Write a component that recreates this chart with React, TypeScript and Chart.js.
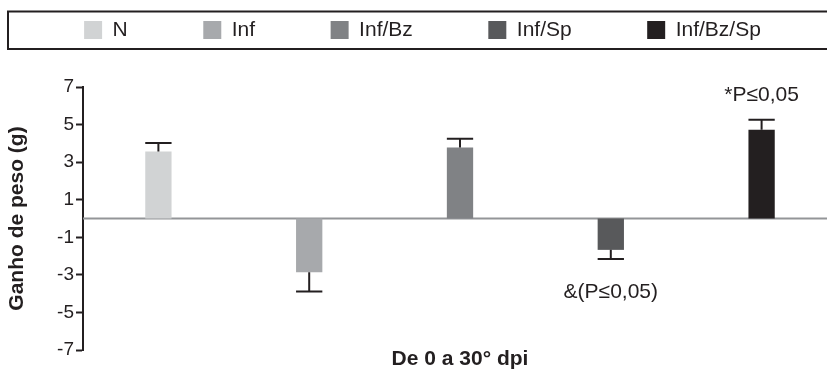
import { useEffect, useRef } from 'react';
import { Chart, registerables } from 'chart.js';

Chart.register(...registerables);

// ---- data ----
const categories = ['De 0 a 30° dpi'];
const groups = ['N', 'Inf', 'Inf/Bz', 'Inf/Sp', 'Inf/Bz/Sp'];
const means = [3.57, -2.86, 3.78, -1.67, 4.73];
const errors = [0.45, 1.03, 0.47, 0.49, 0.53];
const notes = ['', '', '', '&(P≤0,05)', '*P≤0,05'];
const yTicks = [-7, -5, -3, -1, 1, 3, 5, 7];
const yLabel = 'Ganho de peso (g)';

// ---- style ----
const colors = ['#d1d3d4', '#a7a9ac', '#808285', '#58595b', '#231f20'];
const INK = '#231f20';
const ZERO = '#939598';
const FONT = '"Liberation Sans", Arial, sans-serif';
const CANVAS_W = 845;
const CANVAS_H = 369;
const LEGEND_HEIGHT = 143;

const legendFrame = {
  id: 'legendFrame',
  beforeLayout(chart: any) {
    const lg: any = chart.legend;
    if (lg && !lg._framed) {
      lg._framed = true;
      const fit = lg.fit;
      lg.fit = function () {
        fit.call(this);
        this.height = LEGEND_HEIGHT;
      };
    }
  },
  afterDraw(chart: any) {
    const lg: any = chart.legend;
    if (!lg) return;
    const ctx = chart.ctx;
    ctx.save();
    ctx.strokeStyle = INK;
    ctx.lineWidth = 2;
    ctx.strokeRect(lg.left, 11.5, lg.right - lg.left + 1, 37.5);
    ctx.restore();
  },
};

const errorBars = {
  id: 'errorBars',
  beforeDatasetsDraw(chart: any) {
    const { ctx, chartArea, scales } = chart;
    const y0 = scales.y.getPixelForValue(0);
    ctx.save();
    ctx.strokeStyle = ZERO;
    ctx.lineWidth = 2;
    ctx.beginPath();
    ctx.moveTo(chartArea.left, y0);
    ctx.lineTo(chartArea.right, y0);
    ctx.stroke();
    ctx.restore();
  },
  afterDatasetsDraw(chart: any) {
    const { ctx, scales } = chart;
    ctx.save();
    chart.data.datasets.forEach((_ds: any, i: number) => {
      const bar: any = chart.getDatasetMeta(i).data[0];
      if (!bar) return;
      const v = means[i];
      const dir = v >= 0 ? 1 : -1;
      const yEnd = scales.y.getPixelForValue(v + dir * errors[i]);
      const { x, y, width } = bar.getProps(['x', 'y', 'width'], true);
      ctx.strokeStyle = INK;
      ctx.lineWidth = 2;
      ctx.beginPath();
      ctx.moveTo(x, y);
      ctx.lineTo(x, yEnd);
      ctx.moveTo(x - width / 2, yEnd);
      ctx.lineTo(x + width / 2, yEnd);
      ctx.stroke();
      if (notes[i]) {
        ctx.font = `21px ${FONT}`;
        ctx.fillStyle = INK;
        ctx.textAlign = 'center';
        ctx.textBaseline = 'middle';
        ctx.fillText(notes[i], x, yEnd + (dir > 0 ? -24 : 33));
      }
    });
    ctx.restore();
  },
};

export default function App() {
  const ref = useRef<HTMLCanvasElement>(null);

  useEffect(() => {
    if (!ref.current) return;
    Chart.defaults.font.family = FONT;
    Chart.defaults.color = INK;
    const chart = new Chart(ref.current, {
      type: 'bar',
      data: {
        labels: categories,
        datasets: groups.map((g, i) => ({
          label: g,
          data: [means[i]],
          backgroundColor: colors[i],
          borderWidth: 0,
          categoryPercentage: 1,
          barPercentage: 0.1744,
        })),
      },
      options: {
        responsive: false,
        animation: false,
        events: [],
        layout: { padding: { top: -56, right: 8, bottom: 0, left: 8 } },
        plugins: {
          tooltip: { enabled: false },
          legend: {
            display: true,
            position: 'top',
            labels: {
              boxWidth: 18,
              boxHeight: 18,
              padding: 75.5,
              color: INK,
              font: { family: FONT, size: 21 },
            },
          },
        },
        scales: {
          x: {
            type: 'category',
            ticks: { display: false },
            grid: { display: false, drawTicks: false },
            border: { display: false },
            title: {
              display: true,
              text: categories[0],
              color: INK,
              font: { family: FONT, size: 21, weight: 'bold', lineHeight: '19px' },
              padding: 0,
            },
          },
          y: {
            min: -7,
            max: 7,
            afterBuildTicks: (scale: any) => {
              scale.ticks = yTicks.map((v) => ({ value: v }));
            },
            afterFit: (scale: any) => {
              scale.width = 75;
            },
            ticks: {
              color: INK,
              padding: 2,
              font: { family: FONT, size: 19 },
              callback: (v: any) => String(v),
            },
            grid: {
              drawOnChartArea: false,
              drawTicks: true,
              tickLength: 7,
              tickColor: INK,
              tickWidth: 2,
            },
            border: { display: true, color: INK, width: 2 },
            title: {
              display: true,
              text: yLabel,
              color: INK,
              font: { family: FONT, size: 21, weight: 'bold', lineHeight: '19px' },
              padding: 0,
            },
          },
        },
      } as any,
      plugins: [legendFrame, errorBars],
    });
    return () => chart.destroy();
  }, []);

  return (
    <div
      style={{
        position: 'absolute',
        left: 0,
        top: 0,
        width: 827,
        height: CANVAS_H,
        overflow: 'hidden',
        background: '#fff',
      }}
    >
      <canvas
        ref={ref}
        width={CANVAS_W}
        height={CANVAS_H}
        style={{ display: 'block', width: CANVAS_W, height: CANVAS_H }}
      />
    </div>
  );
}
